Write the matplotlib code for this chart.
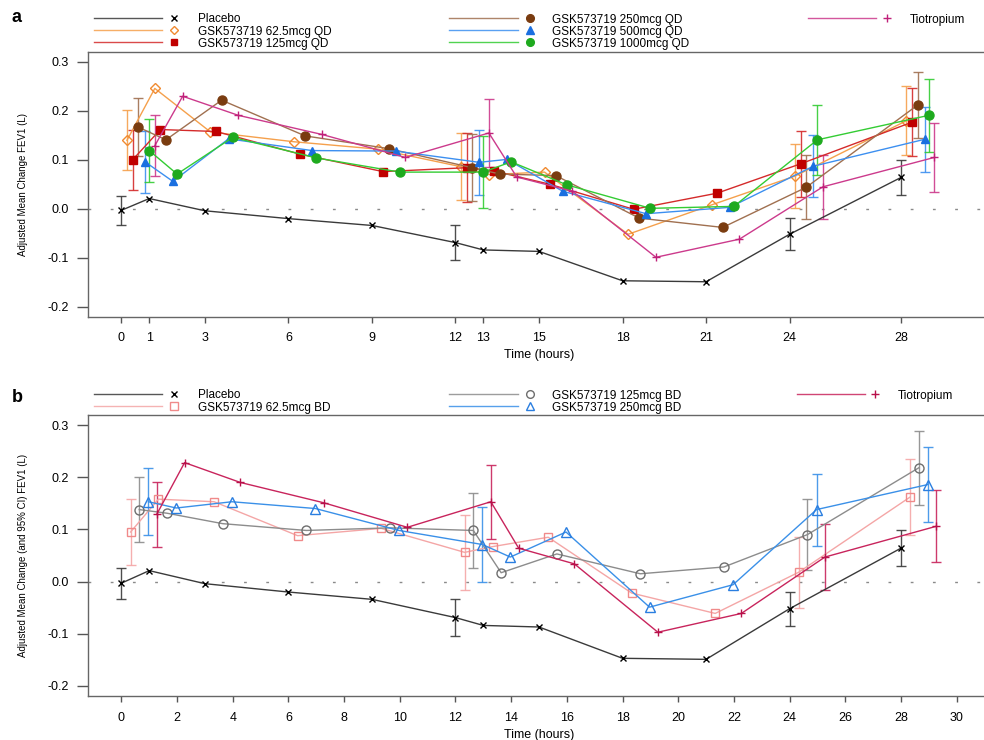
"""
Two-panel FEV1 time profile: adjusted mean change from baseline over 0-30 h,
once-daily doses (a) and twice-daily doses (b), with 95% CI bars at selected times.
"""

import numpy as np
import matplotlib
matplotlib.use("Agg")
import matplotlib.pyplot as plt
from matplotlib.lines import Line2D

plt.rcParams['font.family'] = ['Liberation Sans', 'DejaVu Sans']
plt.rcParams['axes.unicode_minus'] = False

# =========================
# DATA
# =========================

times = [0, 1, 3, 6, 9, 12, 13, 15, 18, 21, 24, 28]
ci_times = [0, 12, 24, 28]          # error bars only drawn at these

# panel a (QD)
placebo = [-0.003, 0.021, -0.004, -0.020, -0.034, -0.069, -0.084, -0.087, -0.147, -0.149, -0.052, 0.064]
placebo_ci = [0.030, 0.035, 0.033, 0.035]

qd_62 = [0.140, 0.246, 0.157, 0.137, 0.122, 0.086, 0.070, 0.075, -0.052, 0.008, 0.067, 0.180]
qd_62_ci = [0.061, 0.068, 0.066, 0.070]

qd_125 = [0.100, 0.162, 0.158, 0.112, 0.076, 0.084, 0.077, 0.050, -0.001, 0.032, 0.092, 0.177]
qd_125_ci = [0.062, 0.070, 0.067, 0.070]

qd_250 = [0.167, 0.141, 0.222, 0.149, 0.123, 0.084, 0.071, 0.068, -0.019, -0.038, 0.044, 0.212]
qd_250_ci = [0.060, 0.068, 0.065, 0.068]

qd_500 = [0.096, 0.056, 0.143, 0.119, 0.118, 0.095, 0.101, 0.036, -0.010, 0.003, 0.087, 0.142]
qd_500_ci = [0.063, 0.067, 0.063, 0.067]

qd_1000 = [0.119, 0.071, 0.146, 0.104, 0.075, 0.075, 0.096, 0.049, 0.001, 0.005, 0.141, 0.191]
qd_1000_ci = [0.065, 0.073, 0.072, 0.075]

tiotropium = [0.129, 0.230, 0.191, 0.152, 0.105, 0.155, 0.065, 0.036, -0.099, -0.062, 0.045, 0.105]
tiotropium_ci = [0.062, 0.070, 0.065, 0.071]

# panel b (BD)
bd_62 = [0.095, 0.158, 0.153, 0.088, 0.102, 0.056, 0.067, 0.085, -0.022, -0.061, 0.018, 0.162]
bd_62_ci = [0.063, 0.072, 0.068, 0.072]

bd_125 = [0.138, 0.131, 0.111, 0.098, 0.103, 0.098, 0.017, 0.053, 0.015, 0.028, 0.090, 0.218]
bd_125_ci = [0.063, 0.071, 0.068, 0.071]

bd_250 = [0.153, 0.141, 0.153, 0.140, 0.098, 0.071, 0.047, 0.095, -0.049, -0.006, 0.138, 0.186]
bd_250_ci = [0.064, 0.072, 0.069, 0.072]

tiotropium_b = [0.129, 0.228, 0.190, 0.151, 0.104, 0.153, 0.064, 0.034, -0.097, -0.061, 0.047, 0.106]
tiotropium_b_ci = [0.062, 0.071, 0.064, 0.069]

xticks_a = [0, 1, 3, 6, 9, 12, 13, 15, 18, 21, 24, 28]
xticks_b = list(range(0, 31, 2))
yticks = [-0.2, -0.1, 0.0, 0.1, 0.2, 0.3]

# =========================
# STYLES
# =========================

def style(line, marker, mec, mfc, ms=5.5, err=None):
    return dict(line=line, marker=marker, mec=mec, mfc=mfc, ms=ms, err=err or line)

st_placebo = style('#3a3a3a', 'x', 'black', 'black', ms=5)
st_qd62 = style('#f5a04c', 'D', '#f08a30', 'none', ms=5)
st_qd125 = style('#d42a2a', 's', '#c00000', '#c00000', ms=5.5)
st_qd250 = style('#a07050', 'o', '#7a3c10', '#7a3c10', ms=6.5)
st_qd500 = style('#3c8ff0', '^', '#1a6fe0', '#1a6fe0', ms=6)
st_qd1000 = style('#33cc33', 'o', '#1eaa1e', '#1eaa1e', ms=6.5)
st_tio_a = style('#cc3a8c', '+', '#c0207a', '#c0207a', ms=6)

st_bd62 = style('#f4a6a6', 's', '#f08a8a', 'none', ms=6)
st_bd125 = style('#8c8c8c', 'o', '#6e6e6e', 'none', ms=6.5)
st_bd250 = style('#3a90e8', '^', '#2a7ee0', 'none', ms=7)
st_tio_b = style('#c8245c', '+', '#b8104a', '#b8104a', ms=6)

# label, values, ci, dodge (h), style
series_a = [
    ("Placebo", placebo, placebo_ci, 0.0, st_placebo),
    ("GSK573719 62.5mcg QD", qd_62, qd_62_ci, 0.2, st_qd62),
    ("GSK573719 125mcg QD", qd_125, qd_125_ci, 0.4, st_qd125),
    ("GSK573719 250mcg QD", qd_250, qd_250_ci, 0.6, st_qd250),
    ("GSK573719 500mcg QD", qd_500, qd_500_ci, 0.85, st_qd500),
    ("GSK573719 1000mcg QD", qd_1000, qd_1000_ci, 1.0, st_qd1000),
    ("Tiotropium", tiotropium, tiotropium_ci, 1.2, st_tio_a),
]

series_b = [
    ("Placebo", placebo, placebo_ci, 0.0, st_placebo),
    ("GSK573719 62.5mcg BD", bd_62, bd_62_ci, 0.33, st_bd62),
    ("GSK573719 125mcg BD", bd_125, bd_125_ci, 0.64, st_bd125),
    ("GSK573719 250mcg BD", bd_250, bd_250_ci, 0.97, st_bd250),
    ("Tiotropium", tiotropium_b, tiotropium_b_ci, 1.27, st_tio_b),
]

# =========================
# PLOTTING
# =========================

W, H = 984, 740
fig = plt.figure(figsize=(W / 100, H / 100), dpi=100)


def px(x, y):
    return x / W, 1 - y / H


def draw_panel(ax, series, xticks, ylabel):
    ax.axhline(0, color='#8a8a8a', lw=1, ls=(0, (2, 14)), zorder=1)
    ci_idx = [times.index(t) for t in ci_times]
    for label, vals, ci, dodge, st in series:
        x = np.array(times) + dodge
        y = np.array(vals)
        ax.errorbar(x[ci_idx], y[ci_idx], yerr=ci, fmt='none', ecolor=st['err'],
                    elinewidth=1, capsize=3.5, capthick=1, alpha=0.9, zorder=2)
        ax.plot(x, y, color=st['line'], lw=1, marker=st['marker'], ms=st['ms'],
                mec=st['mec'], mfc=st['mfc'], mew=1, zorder=3)

    ax.set_xlim(-1.2, 31.2)
    ax.set_ylim(-0.22, 0.32)
    ax.set_xticks(xticks)
    ax.set_yticks(yticks)
    ax.set_yticklabels([f"{v:.1f}" for v in yticks])
    ax.tick_params(axis='y', direction='out', length=8, width=1, color='#555555',
                   labelsize=9, pad=6)
    ax.tick_params(axis='x', direction='out', length=4, width=1, color='#555555',
                   labelsize=9, pad=7)
    for sp in ax.spines.values():
        sp.set_color('#666666')
        sp.set_linewidth(1)
    ax.set_xlabel("Time (hours)", fontsize=9, labelpad=4)
    ax.set_ylabel(ylabel, fontsize=7)
    ax.yaxis.set_label_coords(-0.067, 0.5)


def draw_legend(entries, cols, rows):
    # entries: list of (col, row, label, style)
    for col, row, label, st in entries:
        x0, x1, xm, xt = cols[col]
        y = rows[row]
        fig.add_artist(Line2D([x0 / W, x1 / W], [1 - y / H] * 2, color=st['line'],
                              lw=1, alpha=0.85, transform=fig.transFigure))
        fig.add_artist(Line2D([xm / W], [1 - y / H], ls='none', marker=st['marker'],
                              ms=st['ms'] * 0.85, mec=st['mec'], mfc=st['mfc'], mew=1,
                              transform=fig.transFigure))
        fig.text(*px(xt, y + 1.5), label, fontsize=8.5, va='center', ha='left')


ax_a = fig.add_axes([88 / W, 1 - 316.5 / H, 902 / W, 264.3 / H])
draw_panel(ax_a, series_a, xticks_a, "Adjusted Mean Change FEV1 (L)")

ax_b = fig.add_axes([88 / W, 1 - 696.4 / H, 902 / W, 281.8 / H])
draw_panel(ax_b, series_b, xticks_b, "Adjusted Mean Change (and 95% CI) FEV1 (L)")

cols_a = [(94, 162, 174, 198), (449, 518, 530, 552), (808, 876, 887, 910)]
legend_a = [(0, 0, *series_a[0][::4]), (0, 1, *series_a[1][::4]), (0, 2, *series_a[2][::4]),
            (1, 0, *series_a[3][::4]), (1, 1, *series_a[4][::4]), (1, 2, *series_a[5][::4]),
            (2, 0, *series_a[6][::4])]
draw_legend(legend_a, cols_a, [18, 30, 42])

cols_b = [(94, 162, 174, 198), (449, 518, 530, 552), (797, 865, 875, 898)]
legend_b = [(0, 0, *series_b[0][::4]), (0, 1, *series_b[1][::4]),
            (1, 0, *series_b[2][::4]), (1, 1, *series_b[3][::4]),
            (2, 0, *series_b[4][::4])]
draw_legend(legend_b, cols_b, [394, 406])

fig.text(*px(12, 18), "a", fontsize=13, fontweight='bold', va='center')
fig.text(*px(12, 398), "b", fontsize=13, fontweight='bold', va='center')

fig.savefig("out.png", dpi=100)
